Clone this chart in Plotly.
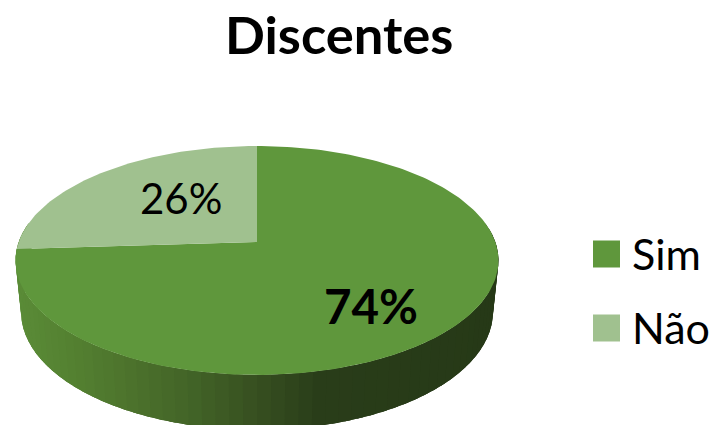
import math
import plotly.graph_objects as go

title = "Discentes"
categories = ["Sim", "Não"]
values = [74, 26]
colors = ["#5F973C", "#A0C18F"]
side_stops = [(17, "#5A8B37"), (70, "#548131"), (130, "#4C722C"), (190, "#426427"),
              (257, "#374F20"), (320, "#293D19"), (500, "#263917")]

# geometry of the tilted disc, in pixels of the 714x425 page
CX, CY, K, A = 257.0, 242.0, 0.1616, 111.5
B = 238.3
ELL_CY, BOT_CY, BOT_SX, BOT_SY = 260.5, 312.0, 0.977, 1.03


def top_pt(theta):
    u, v = math.sin(theta), math.cos(theta)
    d = 1 + K * v
    return CX + B * u / d, CY - A * v / d


def bot_pt(theta):
    x, y = top_pt(theta)
    return CX + (x - CX) * BOT_SX, BOT_CY + (y - ELL_CY) * BOT_SY


def hex2rgb(c):
    return tuple(int(c[i:i + 2], 16) for i in (1, 3, 5))


def side_color(x):
    for (x0, c0), (x1, c1) in zip(side_stops, side_stops[1:]):
        if x <= x1:
            t = max(0.0, (x - x0) / (x1 - x0))
            a, b = hex2rgb(c0), hex2rgb(c1)
            return "rgb(%d,%d,%d)" % tuple(round(p + (q - p) * t) for p, q in zip(a, b))
    return side_stops[-1][1]


fig = go.Figure()

# side wall, as narrow shaded bands that overlap so no seams show
N = 70
t0, t1 = math.radians(80), math.radians(280)
for i in range(N):
    a = t0 + (t1 - t0) * i / N
    b = t0 + (t1 - t0) * (i + 2.5) / N
    b = max(b, t0) if b <= t1 else t1
    steps = [a + (b - a) * j / 6 for j in range(7)]
    pts = [top_pt(s) for s in steps] + [bot_pt(s) for s in reversed(steps)]
    xs = [p[0] for p in pts] + [pts[0][0]]
    ys = [p[1] for p in pts] + [pts[0][1]]
    mid = t0 + (t1 - t0) * (i + 0.5) / N
    fig.add_trace(go.Scatter(x=xs, y=ys, mode="lines", fill="toself", line=dict(width=0),
                             fillcolor=side_color(top_pt(mid)[0]), hoverinfo="skip",
                             showlegend=False))

# top face
total = sum(values)
start = 0.0
for cat, val, col in zip(categories, values, colors):
    end = start + val / total * 2 * math.pi
    n = max(8, int(val * 3))
    pts = [top_pt(start + (end - start) * j / n) for j in range(n + 1)]
    xs = [CX] + [p[0] for p in pts] + [CX]
    ys = [CY] + [p[1] for p in pts] + [CY]
    fig.add_trace(go.Scatter(x=xs, y=ys, mode="lines", fill="toself", line=dict(width=0),
                             fillcolor=col, name=cat, showlegend=False))
    start = end

# legend
legend_y = [254, 328]
for cat, col, y in zip(categories, colors, legend_y):
    fig.add_trace(go.Scatter(x=[606.5], y=[y], mode="markers",
                             marker=dict(symbol="square", size=27, color=col),
                             showlegend=False, hoverinfo="skip"))
    fig.add_annotation(x=630, y=y - 1, text=cat, showarrow=False, xanchor="left", yanchor="middle",
                       font=dict(family="Lato", size=43, color="#000000"))

label_pos = [(371, 305), (181, 198)]
label_size = [47.5, 42]
for val, (x, y), bold, sz in zip(values, label_pos, [True, False], label_size):
    fig.add_annotation(x=x, y=y, text=f"<b>{val}%</b>" if bold else f"{val}%", showarrow=False,
                       font=dict(family="Lato", size=sz, color="#000000"))

fig.add_annotation(x=339, y=33, text=f"<b>{title}</b>", showarrow=False,
                   font=dict(family="Lato", size=52.5, color="#000000"))

fig.update_layout(
    width=714, height=425, margin=dict(l=0, r=0, t=0, b=0),
    paper_bgcolor="white", plot_bgcolor="white", showlegend=False,
    xaxis=dict(range=[0, 714], visible=False, fixedrange=True),
    yaxis=dict(range=[425, 0], visible=False, fixedrange=True),
)
fig.write_html("out.html", config={"displayModeBar": False},
               post_script="document.body.style.margin='0';document.documentElement.style.overflow='hidden';")
